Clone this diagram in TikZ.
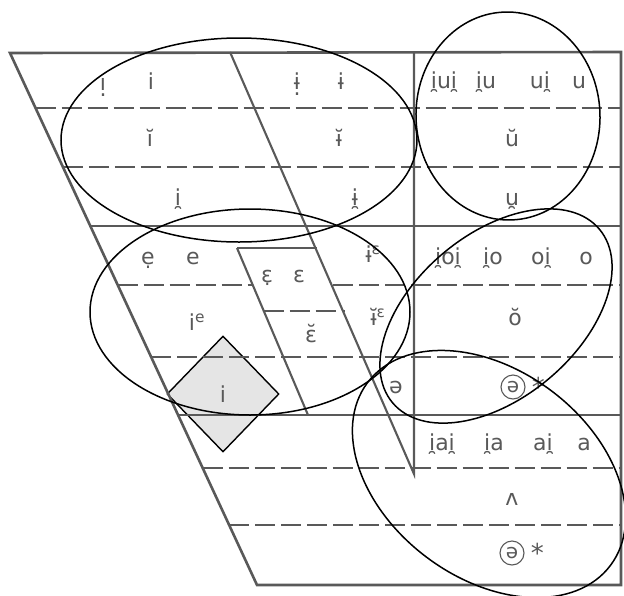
\documentclass[tikz,border=0pt]{standalone}
\usepackage{fontspec}
\setmainfont{DejaVu Sans}
\usetikzlibrary{shapes.geometric, positioning}
\newcommand{\dotunder}[1]{\ooalign{#1\cr\hidewidth\raisebox{-6pt}{.}\hidewidth\cr}}

\begin{document}
\begin{tikzpicture}[x=1pt, y=-1pt,
    vowel/.style={font=\fontsize{22}{26}\selectfont, text=gray!70!black, inner sep=0pt, anchor=base},
    starmark/.style={font=\fontsize{26}{30}\selectfont, text=gray!70!black, inner sep=0pt},
    ringed/.style={circle, draw=gray!70!black, line width=1.1pt, minimum size=24pt, inner sep=0pt, font=\fontsize{20}{24}\selectfont, text=gray!70!black},
    cellbox/.style={diamond, draw=black, line width=1.4pt, fill=gray!20, minimum width=112pt, minimum height=116pt, inner sep=0pt, font=\fontsize{22}{26}\selectfont, text=gray!70!black},
    chartframe/.style={draw=gray!70!black, line width=2.6pt},
    chartrule/.style={draw=gray!70!black, line width=2.1pt},
    dashrule/.style={draw=gray!70!black, line width=1.8pt, dash pattern=on 20pt off 6pt},
    ring/.style={draw=black, line width=1.5pt}
]
\useasboundingbox (0,0) rectangle (624,595);

\node[cellbox] (cell) at (223,394) {i};

\coordinate (tl) at (10,53);
\coordinate (tr) at (621,52);
\coordinate (br) at (621,585);
\coordinate (bl) at (257,585);
\coordinate (mTop) at (230,52);
\coordinate (mBot) at (414,474);
\coordinate (vTop) at (414,52);
\coordinate (boxTop) at (237,248);
\coordinate (boxBot) at (308,415);
\draw[chartframe] (tl) -- (tr) -- (br) -- (bl) -- cycle;
\draw[chartrule] (mTop) -- (mBot) -- (vTop);
\draw[chartrule] (boxTop) -- (boxBot);
\draw[chartrule] (boxTop) -- (317,248);
\draw[chartrule] (90.3,226) -- (621,226);
\draw[chartrule] (178,415) -- (621,415);
\foreach \yy in {108,167,357,468,525}
    \draw[dashrule] ({10+(\yy-53)*0.4643},\yy) -- (621,\yy);
\draw[dashrule] (117.7,285) -- (252.6,285);
\draw[dashrule] (333,285) -- (621,285);
\draw[dashrule] (263.6,311) -- (344.5,311);

\node[vowel] (iDot) at (103,90) {\dotunder{ı}};
\node[vowel] (iPlain) at (151,89) {i};
\node[vowel] (barDot) at (297,89) {\dotunder{ɨ}};
\node[vowel] (barPlain) at (341,89) {ɨ};
\node[vowel] (uGlideBoth) at (444,88) {i̯ui̯};
\node[vowel] (uGlideOn) at (486,88) {i̯u};
\node[vowel] (uGlideOff) at (540,88) {ui̯};
\node[vowel] (uPlain) at (579,88) {u};
\node[vowel] (iShort) at (150,146) {ĭ};
\node[vowel] (barShort) at (339,146) {ɨ̆};
\node[vowel] (uShort) at (512,146) {ŭ};
\node[vowel] (iNonsyl) at (178,205) {i̯};
\node[vowel] (barNonsyl) at (355,205) {ɨ̯};
\node[vowel] (uNonsyl) at (512,205) {u̯};
\node[vowel] (eDot) at (148,264) {ẹ};
\node[vowel] (ePlain) at (193,264) {e};
\node[vowel] (epsDot) at (267,282) {ɛ̣};
\node[vowel] (epsPlain) at (299,282) {ɛ};
\node[vowel] (barEps) at (373,262) {ɨ\textsuperscript{ɛ}};
\node[vowel] (oGlideBoth) at (448,264) {i̯oi̯};
\node[vowel] (oGlideOn) at (493,264) {i̯o};
\node[vowel] (oGlideOff) at (541,264) {oi̯};
\node[vowel] (oPlain) at (586,264) {o};
\node[vowel] (iE) at (197,330) {i\textsuperscript{e}};
\node[vowel] (epsShort) at (311,342) {ɛ̆};
\node[vowel] (barShortEps) at (378,325) {ɨ̆\textsuperscript{ɛ}};
\node[vowel] (oShort) at (515,325) {ŏ};
\node[vowel] (schwa) at (396,393) {ə};
\node[ringed] (schwaRingA) at (513,387) {ə};
\node[starmark, right=6pt of schwaRingA] (starA) {*};
\node[vowel] (aGlideBoth) at (442,450) {i̯ai̯};
\node[vowel] (aGlideOn) at (494,450) {i̯a};
\node[vowel] (aGlideOff) at (543,450) {ai̯};
\node[vowel] (aPlain) at (584,450) {a};
\node[vowel] (wedge) at (512,505) {ʌ};
\node[ringed] (schwaRingB) at (512,553) {ə};
\node[starmark, right=6pt of schwaRingB] (starB) {*};

\draw[ring] (239,140) ellipse [x radius=178pt, y radius=102pt];
\draw[ring, rotate around={2:(508,116)}] (508,116) ellipse [x radius=92pt, y radius=104pt];
\draw[ring] (250,312) ellipse [x radius=160pt, y radius=103pt];
\draw[ring, rotate around={40:(496,316)}] (496,316) ellipse [x radius=135pt, y radius=82pt];
\draw[ring, rotate around={-37:(489,474)}] (489,474) ellipse [x radius=152pt, y radius=104pt];
\end{tikzpicture}
\end{document}
